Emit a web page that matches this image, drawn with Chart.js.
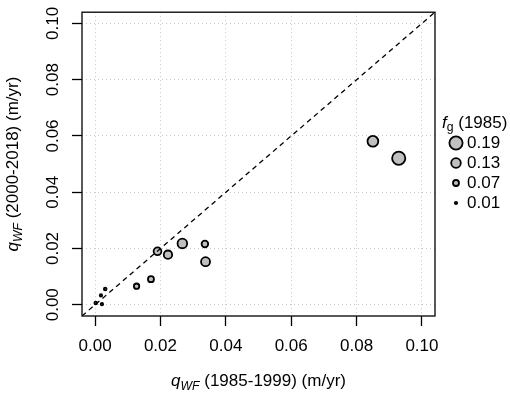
<!DOCTYPE html>
<html>
<head>
<meta charset="utf-8">
<script src="https://cdn.jsdelivr.net/npm/chart.js@4.4.0/dist/chart.umd.min.js"></script>
<style>
  body { margin: 0; background: #fff; }
  canvas { display: block; }
</style>
</head>
<body>
<canvas id="fgChart" width="510" height="395"></canvas>
<script>
// q_WF en los dos periodos y f_g de 1985 (uno por glaciar)
const q1985 = [0.0929, 0.0850, 0.0267, 0.0338, 0.0223, 0.0191, 0.0336, 0.0171, 0.0127, 0.0031, 0.0018, 0.0021, 0.0002];
const q2000 = [0.0521, 0.0581, 0.0218, 0.0153, 0.0178, 0.0190, 0.0216, 0.0091, 0.0066, 0.0056, 0.0033, 0.0002, 0.0006];
const fg1985 = [0.19, 0.15, 0.13, 0.12, 0.11, 0.10, 0.08, 0.07, 0.06, 0.015, 0.01, 0.01, 0.015];

const axisTicks = [0, 0.02, 0.04, 0.06, 0.08, 0.10];
const axisLimits = [-0.004, 0.104];
const legendValues = [0.19, 0.13, 0.07, 0.01];

const fontFam = '"Liberation Sans", Arial, sans-serif';
const fontSize = 17;

function pointRadius(f) {
    return 0.9 + 30 * f;
}

const points = q1985.map((x, i) => ({ x: x, y: q2000[i], r: pointRadius(fg1985[i]) }));
const oneToOne = axisLimits.map(v => ({ x: v, y: v }));

// texto con cursiva y subindice
function drawRich(ctx, parts, x, y, size, align) {
    const fontOf = p => (p.italic ? 'italic ' : '') + (p.sub ? size * 0.72 : size) + 'px ' + fontFam;
    const widths = parts.map(p => { ctx.font = fontOf(p); return ctx.measureText(p.text).width; });
    const total = widths.reduce((a, b) => a + b, 0);
    let cx = align === 'left' ? x : x - total / 2;
    ctx.textBaseline = 'middle';
    ctx.textAlign = 'left';
    parts.forEach((p, i) => {
        ctx.font = fontOf(p);
        ctx.fillText(p.text, cx, y + (p.sub ? size * 0.3 : 0));
        cx += widths[i];
    });
}

const extras = {
    id: 'extras',
    afterDraw(chart) {
        const ctx = chart.ctx;
        const a = chart.chartArea;
        ctx.save();
        ctx.strokeStyle = '#000';
        ctx.lineWidth = 1.3;
        ctx.strokeRect(a.left, a.top, a.right - a.left, a.bottom - a.top);

        ctx.fillStyle = '#000';
        const midX = (a.left + a.right) / 2;
        const midY = (a.top + a.bottom) / 2;
        drawRich(ctx, [{ text: 'q', italic: true }, { text: 'WF', italic: true, sub: true }, { text: ' (1985-1999) (m/yr)' }], midX, 381, fontSize);

        ctx.save();
        ctx.translate(13, midY);
        ctx.rotate(-Math.PI / 2);
        drawRich(ctx, [{ text: 'q', italic: true }, { text: 'WF', italic: true, sub: true }, { text: ' (2000-2018) (m/yr)' }], 0, 0, fontSize);
        ctx.restore();

        // leyenda de tamaños
        drawRich(ctx, [{ text: 'f', italic: true }, { text: 'g', sub: true }, { text: ' (1985)' }], 442, 123, fontSize, 'left');
        legendValues.forEach((v, i) => {
            const ly = 143 + i * 20;
            ctx.beginPath();
            ctx.arc(456, ly, pointRadius(v), 0, Math.PI * 2);
            ctx.fillStyle = '#c0c0c0';
            ctx.fill();
            ctx.lineWidth = 1.8;
            ctx.strokeStyle = '#000';
            ctx.stroke();
            ctx.fillStyle = '#000';
            ctx.font = fontSize + 'px ' + fontFam;
            ctx.textAlign = 'left';
            ctx.textBaseline = 'middle';
            ctx.fillText(v.toFixed(2), 467, ly);
        });
        ctx.restore();
    }
};

function axisOptions(isX) {
    return {
        type: 'linear',
        min: axisLimits[0],
        max: axisLimits[1],
        afterBuildTicks: s => { s.ticks = axisTicks.map(v => ({ value: v })); },
        afterFit: s => {
            if (isX) s.height = 79; else s.width = 82;
        },
        grid: {
            color: '#c8c8c8',
            lineWidth: 1,
            tickColor: '#000',
            tickWidth: 1.3,
            tickLength: 10
        },
        border: { display: false, dash: [1, 3] },
        ticks: {
            color: '#000',
            font: { family: fontFam, size: fontSize },
            autoSkip: false,
            padding: isX ? 10 : 2,
            minRotation: isX ? 0 : 90,
            maxRotation: isX ? 0 : 90,
            crossAlign: isX ? 'near' : 'center',
            callback: v => v.toFixed(2)
        }
    };
}

new Chart(document.getElementById('fgChart'), {
    type: 'bubble',
    data: {
        datasets: [{
            type: 'line',
            data: oneToOne,
            borderColor: '#000',
            borderWidth: 1.3,
            borderDash: [5, 4],
            pointRadius: 0,
            fill: false,
            order: 0
        }, {
            data: points,
            backgroundColor: '#c0c0c0',
            borderColor: '#000',
            borderWidth: 1.8,
            order: 1
        }]
    },
    options: {
        responsive: false,
        animation: false,
        layout: { padding: { left: 0, top: 7, right: 75, bottom: 0 } },
        plugins: {
            legend: { display: false },
            tooltip: { enabled: false }
        },
        scales: {
            x: axisOptions(true),
            y: axisOptions(false)
        }
    },
    plugins: [extras]
});
</script>
</body>
</html>
